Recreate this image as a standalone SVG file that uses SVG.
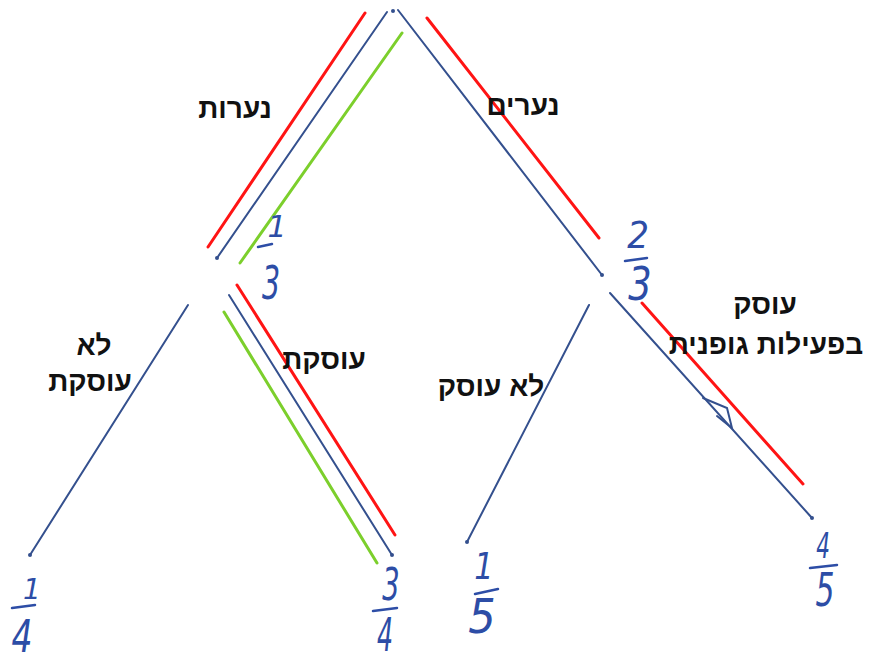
<svg xmlns="http://www.w3.org/2000/svg" width="882" height="662" viewBox="0 0 882 662">
<style>
.b{stroke:#34508e;stroke-width:2;fill:none;stroke-linecap:round}
.r{stroke:#ff1414;stroke-width:3;fill:none;stroke-linecap:round}
.g{stroke:#7ccf2c;stroke-width:3;fill:none;stroke-linecap:round}
.bar{stroke:#2d4da6;stroke-width:2.5;fill:none;stroke-linecap:round}
.lbl{font-family:"Liberation Sans","DejaVu Sans",sans-serif;font-weight:bold;font-size:28px;fill:#111;text-anchor:middle}
.d{font-family:"DejaVu Sans","Liberation Sans",sans-serif;font-style:italic;fill:#2d4da6;text-anchor:middle}
.dot{fill:#34508e}
</style>
<rect width="882" height="662" fill="#fff"/>
<g id="connectors">
  <g id="edge-root-girls">
    <line class="r" x1="365" y1="13" x2="208" y2="247"/>
    <line class="b" x1="387" y1="12" x2="217" y2="258"/>
    <line class="g" x1="402" y1="33" x2="240" y2="263"/>
  </g>
  <g id="edge-root-boys">
    <line class="b" x1="398" y1="10" x2="602" y2="275"/>
    <line class="r" x1="427" y1="18" x2="599" y2="238"/>
  </g>
  <g id="edge-girls-no">
    <line class="b" x1="188" y1="305" x2="30" y2="555"/>
  </g>
  <g id="edge-girls-yes">
    <line class="r" x1="237" y1="285" x2="395" y2="535"/>
    <line class="b" x1="229" y1="295" x2="392" y2="555"/>
    <line class="g" x1="224" y1="312" x2="377" y2="563"/>
  </g>
  <g id="edge-boys-no">
    <line class="b" x1="589" y1="305" x2="467" y2="542"/>
  </g>
  <g id="edge-boys-yes">
    <line class="b" x1="610" y1="293" x2="812" y2="518"/>
    <line class="r" x1="642" y1="303" x2="803" y2="484"/>
    <path class="b" d="M703 398 L727 408 L732 428 L717 416"/>
  </g>
  <g id="edge-labels">
    <text class="lbl" x="235" y="118">נערות</text>
    <text class="lbl" x="523" y="115">נערים</text>
    <text class="lbl" x="94" y="355">לא</text>
    <text class="lbl" x="90" y="391">עוסקת</text>
    <text class="lbl" x="324" y="369">עוסקת</text>
    <text class="lbl" x="491" y="396">לא עוסק</text>
    <text class="lbl" x="765" y="314">עוסק</text>
    <text class="lbl" x="766" y="354">בפעילות גופנית</text>
  </g>
</g>
<g id="root">
  <circle class="dot" cx="393" cy="11" r="2"/>
</g>
<g id="node-girls">
  <circle class="dot" cx="217" cy="258" r="2"/>
  <text class="d" font-size="30" transform="translate(277,237)">1</text>
  <line class="bar" x1="258" y1="247" x2="272" y2="244"/>
  <text class="d" font-size="46" transform="translate(271,299) scale(0.62,1)">3</text>
</g>
<g id="node-boys">
  <circle class="dot" cx="602" cy="275" r="2"/>
  <text class="d" font-size="38" transform="translate(638,248) scale(0.9,1)">2</text>
  <line class="bar" x1="625" y1="261" x2="647" y2="258"/>
  <text class="d" font-size="46" transform="translate(640,300) scale(0.8,1)">3</text>
</g>
<g id="leaf-girls-no">
  <circle class="dot" cx="30" cy="555" r="2"/>
  <text class="d" font-size="28" transform="translate(32,599)">1</text>
  <line class="bar" x1="12" y1="608" x2="35" y2="605"/>
  <text class="d" font-size="44" transform="translate(22,652) scale(0.75,1)">4</text>
</g>
<g id="leaf-girls-yes">
  <circle class="dot" cx="392" cy="555" r="2"/>
  <text class="d" font-size="44" transform="translate(391,600) scale(0.62,1)">3</text>
  <line class="bar" x1="373" y1="611" x2="397" y2="608"/>
  <text class="d" font-size="46" transform="translate(385,651) scale(0.55,1)">4</text>
</g>
<g id="leaf-boys-no">
  <circle class="dot" cx="467" cy="542" r="2"/>
  <text class="d" font-size="38" transform="translate(484,579) scale(0.8,1)">1</text>
  <line class="bar" x1="475" y1="594" x2="498" y2="589"/>
  <text class="d" font-size="48" transform="translate(482,633) scale(0.9,1)">5</text>
</g>
<g id="leaf-boys-yes">
  <circle class="dot" cx="812" cy="518" r="2"/>
  <text class="d" font-size="36" transform="translate(823,558) scale(0.6,1)">4</text>
  <line class="bar" x1="810" y1="568" x2="837" y2="565"/>
  <text class="d" font-size="46" transform="translate(825,606) scale(0.65,1)">5</text>
</g>
</svg>
